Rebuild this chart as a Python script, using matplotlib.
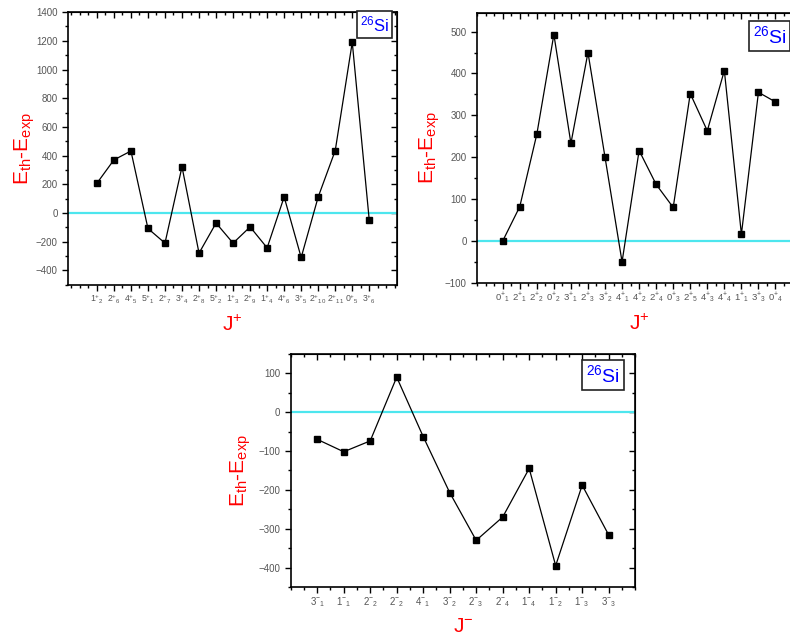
import matplotlib.pyplot as plt
from matplotlib.ticker import MultipleLocator

plt.rcParams['font.family'] = ['Liberation Sans', 'DejaVu Sans']
plt.rcParams['mathtext.fontset'] = 'custom'
plt.rcParams['mathtext.rm'] = 'Liberation Sans'
plt.rcParams['mathtext.it'] = 'Liberation Sans'

# positive parity states, panel 1
labels_a = ["1^{+}{}_{2}", "2^{+}{}_{6}", "4^{+}{}_{5}", "5^{+}{}_{1}", "2^{+}{}_{7}", "3^{+}{}_{4}",
            "2^{+}{}_{8}", "5^{+}{}_{2}", "1^{+}{}_{3}", "2^{+}{}_{9}", "1^{+}{}_{4}", "4^{+}{}_{6}",
            "3^{+}{}_{5}", "2^{+}{}_{10}", "2^{+}{}_{11}", "0^{+}{}_{5}", "3^{+}{}_{6}"]
diff_a = [207, 370, 432, -108, -210, 322, -280, -70, -210, -97, -243, 112, -310, 112, 435, 1190, -52]

# positive parity states, panel 2
labels_b = ["0^{+}{}_{1}", "2^{+}{}_{1}", "2^{+}{}_{2}", "0^{+}{}_{2}", "3^{+}{}_{1}", "2^{+}{}_{3}",
            "3^{+}{}_{2}", "4^{+}{}_{1}", "4^{+}{}_{2}", "2^{+}{}_{4}", "0^{+}{}_{3}", "2^{+}{}_{5}",
            "4^{+}{}_{3}", "4^{+}{}_{4}", "1^{+}{}_{1}", "3^{+}{}_{3}", "0^{+}{}_{4}"]
diff_b = [0, 82, 255, 493, 233, 450, 200, -50, 216, 135, 80, 352, 263, 407, 16, 355, 332]

# negative parity states
labels_c = ["3^{-}{}_{1}", "1^{-}{}_{1}", "2^{-}{}_{2}", "2^{-}{}_{2}", "4^{-}{}_{1}", "3^{-}{}_{2}",
            "2^{-}{}_{3}", "2^{-}{}_{4}", "1^{-}{}_{4}", "1^{-}{}_{2}", "1^{-}{}_{3}", "3^{-}{}_{3}"]
diff_c = [-70, -102, -74, 90, -63, -207, -330, -270, -145, -395, -188, -316]

fig = plt.figure(figsize=(7.9, 6.37), dpi=100)

tick_col = '#555555'


def draw_panel(rect, labels, values, xlim, ylim, ymaj, ymin, xlabel, box_xy, xfs, ypad, boxfs):
    ax = fig.add_axes(rect)
    xs = list(range(1, len(values) + 1))
    ax.axhline(0, color='#4de6ee', linewidth=1.6, zorder=1)
    ax.plot(xs, values, color='black', linewidth=0.9, marker='s', markersize=5, zorder=3)
    ax.set_xlim(*xlim)
    ax.set_ylim(*ylim)
    ax.set_xticks(xs)
    ax.set_xticklabels(['$' + l + '$' for l in labels], fontsize=xfs)
    ax.xaxis.set_minor_locator(MultipleLocator(0.5))
    ax.yaxis.set_major_locator(MultipleLocator(ymaj))
    ax.yaxis.set_minor_locator(MultipleLocator(ymin))
    ax.tick_params(which='both', direction='out', labelcolor=tick_col, width=1)
    ax.tick_params(axis='y', labelsize=7)
    ax.tick_params(which='major', length=4)
    ax.tick_params(which='minor', length=2.5)
    ax.tick_params(axis='x', pad=2)
    for s in ax.spines.values():
        s.set_linewidth(1.2)
    # mirrored ticks pointing inward on top and right
    top = ax.secondary_xaxis('top')
    top.set_xticks(xs)
    top.xaxis.set_minor_locator(MultipleLocator(0.5))
    top.tick_params(which='both', direction='in', labeltop=False, width=1)
    top.tick_params(which='major', length=4)
    top.tick_params(which='minor', length=2.5)
    right = ax.secondary_yaxis('right')
    right.yaxis.set_major_locator(MultipleLocator(ymaj))
    right.yaxis.set_minor_locator(MultipleLocator(ymin))
    right.tick_params(which='both', direction='in', labelright=False, width=1)
    right.tick_params(which='major', length=4)
    right.tick_params(which='minor', length=2.5)
    ax.set_ylabel('E$_{\\mathrm{th}}$-E$_{\\mathrm{exp}}$', color='red', fontsize=15, labelpad=ypad)
    ax.set_xlabel(xlabel, color='red', fontsize=15, labelpad=6)
    ax.text(box_xy[0], box_xy[1], '$^{26}$Si', transform=ax.transAxes, color='blue',
            fontsize=boxfs, ha='right', va='top', zorder=5,
            bbox=dict(boxstyle='square,pad=0.2', facecolor='white', edgecolor='#222222', linewidth=1.2))
    return ax


draw_panel([0.086, 0.553, 0.417, 0.428], labels_a, diff_a, (-0.7, 18.65), (-500, 1400),
           200, 100, 'J$^{+}$', (0.975, 0.99), 6.3, -1, 12)
draw_panel([0.604, 0.556, 0.41, 0.424], labels_b, diff_b, (-0.5, 18.5), (-100, 545),
           100, 50, 'J$^{+}$', (0.955, 0.955), 6.8, 2, 14)
draw_panel([0.368, 0.0785, 0.436, 0.366], labels_c, diff_c, (0, 13), (-450, 150),
           100, 50, 'J$^{-}$', (0.955, 0.955), 7, 4, 14)

fig.savefig('out.png', dpi=100)
